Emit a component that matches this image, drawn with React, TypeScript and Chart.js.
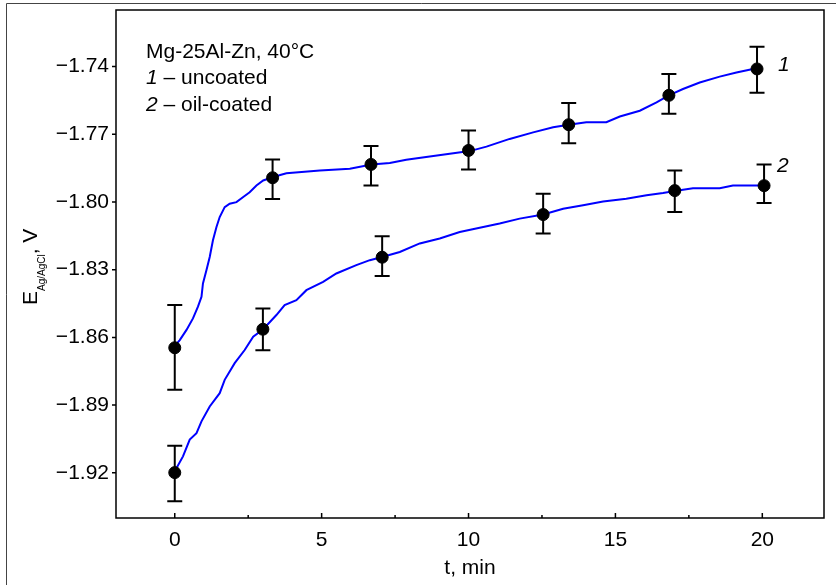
import React, { useEffect, useRef } from "react";
import { Chart, registerables } from "chart.js";

Chart.register(...registerables);

// Curve 1 (uncoated) — continuous record
const curve1T = [0, 0.17, 0.4, 0.62, 0.79, 0.91, 0.96, 1.08, 1.19, 1.3, 1.42, 1.53, 1.7, 1.87, 2.1, 2.32, 2.55, 2.78, 3.01, 3.35, 3.8, 4.94, 5.96, 6.7, 7.32, 7.88, 8.68, 9.36, 10.04, 10.61, 11.4, 12.2, 12.88, 13.41, 14.01, 14.69, 15.15, 15.83, 16.4, 16.82, 17.3, 17.87, 18.55, 19.12, 19.68];
const curve1E = [-1.8638, -1.8612, -1.8567, -1.8516, -1.8464, -1.842, -1.8361, -1.8302, -1.8244, -1.817, -1.8111, -1.8067, -1.8023, -1.8008, -1.8001, -1.7979, -1.7957, -1.7927, -1.7905, -1.789, -1.7873, -1.7861, -1.7853, -1.7834, -1.7828, -1.7813, -1.7799, -1.7787, -1.7775, -1.7755, -1.7721, -1.7692, -1.7669, -1.7658, -1.7647, -1.7647, -1.7622, -1.7596, -1.7559, -1.7528, -1.75, -1.7471, -1.7445, -1.7427, -1.7411];

// Curve 2 (oil-coated) — continuous record
const curve2T = [0, 0.28, 0.51, 0.74, 0.91, 1.19, 1.53, 1.7, 2.04, 2.38, 2.67, 3.01, 3.46, 3.74, 4.14, 4.48, 5.05, 5.5, 6.18, 6.64, 7.06, 7.66, 8.34, 9.02, 9.7, 10.38, 11.06, 11.74, 12.54, 13.22, 13.9, 14.58, 15.37, 16.06, 16.62, 17.02, 17.64, 18.55, 19.0, 20.02];
const curve2E = [-1.9193, -1.9127, -1.9053, -1.9024, -1.8972, -1.8906, -1.8847, -1.8788, -1.8714, -1.8656, -1.8597, -1.8564, -1.8501, -1.8457, -1.8435, -1.8391, -1.8354, -1.8317, -1.828, -1.8258, -1.8244, -1.8222, -1.8184, -1.8162, -1.8133, -1.8114, -1.8096, -1.8074, -1.8056, -1.803, -1.8015, -1.7998, -1.7986, -1.7971, -1.7961, -1.7952, -1.7939, -1.7939, -1.7927, -1.7927];

// Averaged points with error bars, series 1
const mark1T = [0, 3.33, 6.68, 10.0, 13.41, 16.82, 19.82];
const mark1E = [-1.8646, -1.7893, -1.7834, -1.7772, -1.7658, -1.7528, -1.7411];
const mark1Hi = [-1.8457, -1.7812, -1.7752, -1.7684, -1.7562, -1.7434, -1.7313];
const mark1Lo = [-1.8832, -1.7987, -1.7927, -1.7856, -1.774, -1.761, -1.7516];

// Averaged points with error bars, series 2
const mark2T = [0, 3.0, 7.06, 12.54, 17.02, 20.06];
const mark2E = [-1.9199, -1.8564, -1.8245, -1.8056, -1.795, -1.7928];
const mark2Hi = [-1.908, -1.8472, -1.8152, -1.7964, -1.7861, -1.7834];
const mark2Lo = [-1.9326, -1.8657, -1.8328, -1.814, -1.8045, -1.8005];

const xTicks = [0, 5, 10, 15, 20];
const xMinorTicks = [2.5, 7.5, 12.5, 17.5];
const yTicks = [-1.92, -1.89, -1.86, -1.83, -1.8, -1.77, -1.74];

const legendTitle = "Mg-25Al-Zn, 40°C";
const legendItems = [
  { num: "1", text: " – uncoated" },
  { num: "2", text: " – oil-coated" },
];

const FAMILY = '"Liberation Sans", Arial, Helvetica, sans-serif';
const FS = 21;

export default function App() {
  const ref = useRef<HTMLCanvasElement | null>(null);

  useEffect(() => {
    const canvas = ref.current;
    if (!canvas) return;
    const pts = (xs: number[], ys: number[]) => xs.map((x, i) => ({ x, y: ys[i] }));

    const decor = {
      id: "decor",
      beforeDraw(chart: any) {
        const ctx = chart.ctx;
        ctx.save();
        ctx.fillStyle = "#fff";
        ctx.fillRect(0, 0, chart.width, chart.height);
        ctx.strokeStyle = "#444";
        ctx.lineWidth = 1;
        ctx.beginPath();
        ctx.moveTo(6.5, chart.height);
        ctx.lineTo(6.5, 3.5);
        ctx.lineTo(chart.width, 3.5);
        ctx.stroke();
        ctx.restore();
      },
      afterDatasetsDraw(chart: any) {
        const ctx = chart.ctx;
        const xs = chart.scales.x;
        const ys = chart.scales.y;
        ctx.save();
        ctx.strokeStyle = "#000";
        ctx.lineWidth = 2;
        const cap = 7.5;
        const draw = (T: number[], Hi: number[], Lo: number[]) => {
          T.forEach((t, i) => {
            const px = xs.getPixelForValue(t);
            const pHi = ys.getPixelForValue(Hi[i]);
            const pLo = ys.getPixelForValue(Lo[i]);
            ctx.beginPath();
            ctx.moveTo(px, pHi);
            ctx.lineTo(px, pLo);
            ctx.moveTo(px - cap, pHi);
            ctx.lineTo(px + cap, pHi);
            ctx.moveTo(px - cap, pLo);
            ctx.lineTo(px + cap, pLo);
            ctx.stroke();
          });
        };
        draw(mark1T, mark1Hi, mark1Lo);
        draw(mark2T, mark2Hi, mark2Lo);
        ctx.restore();
      },
      afterDraw(chart: any) {
        const ctx = chart.ctx;
        const a = chart.chartArea;
        const xs = chart.scales.x;
        const ys = chart.scales.y;
        ctx.save();
        // frame
        ctx.strokeStyle = "#000";
        ctx.lineWidth = 1.5;
        ctx.strokeRect(a.left, a.top, a.right - a.left, a.bottom - a.top);
        // x ticks (inward)
        ctx.lineWidth = 1.5;
        ctx.beginPath();
        xTicks.forEach((v) => {
          const px = xs.getPixelForValue(v);
          ctx.moveTo(px, a.bottom);
          ctx.lineTo(px, a.bottom - 5);
        });
        xMinorTicks.forEach((v) => {
          const px = xs.getPixelForValue(v);
          ctx.moveTo(px, a.bottom);
          ctx.lineTo(px, a.bottom - 3);
        });
        // y ticks (outward)
        yTicks.forEach((v) => {
          const py = ys.getPixelForValue(v);
          ctx.moveTo(a.left, py);
          ctx.lineTo(a.left - 4, py);
        });
        ctx.stroke();

        // legend text
        ctx.fillStyle = "#000";
        ctx.textBaseline = "alphabetic";
        ctx.textAlign = "left";
        ctx.font = `${FS}px ${FAMILY}`;
        ctx.fillText(legendTitle, 146, 58);
        legendItems.forEach((it, i) => {
          const y = 84 + i * 26.5;
          ctx.font = `italic ${FS}px ${FAMILY}`;
          ctx.fillText(it.num, 146, y);
          const w = ctx.measureText(it.num).width;
          ctx.font = `${FS}px ${FAMILY}`;
          ctx.fillText(it.text, 146 + w, y);
        });

        // curve labels
        ctx.font = `italic ${FS}px ${FAMILY}`;
        ctx.fillText("1", 778, 71);
        ctx.fillText("2", 777, 172);

        // y axis title: E_Ag/AgCl, V
        ctx.translate(37, 305);
        ctx.rotate(-Math.PI / 2);
        ctx.font = `${FS}px ${FAMILY}`;
        let x = 0;
        ctx.fillText("E", x, 0);
        x += ctx.measureText("E").width;
        ctx.font = `10px ${FAMILY}`;
        ctx.fillText("Ag/AgCl", x, 8);
        x += ctx.measureText("Ag/AgCl").width;
        ctx.font = `${FS}px ${FAMILY}`;
        ctx.fillText(", V", x, 0);
        ctx.restore();
      },
    };

    const chart = new Chart(canvas, {
      type: "scatter",
      data: {
        datasets: [
          {
            data: pts(curve1T, curve1E),
            showLine: true,
            borderColor: "#0000ff",
            borderWidth: 2,
            pointRadius: 0,
            tension: 0,
            order: 3,
          },
          {
            data: pts(curve2T, curve2E),
            showLine: true,
            borderColor: "#0000ff",
            borderWidth: 2,
            pointRadius: 0,
            tension: 0,
            order: 3,
          },
          {
            data: pts(mark1T, mark1E),
            showLine: false,
            pointRadius: 6,
            pointBorderWidth: 1,
            backgroundColor: "#000",
            borderColor: "#000",
            order: 1,
          },
          {
            data: pts(mark2T, mark2E),
            showLine: false,
            pointRadius: 6,
            pointBorderWidth: 1,
            backgroundColor: "#000",
            borderColor: "#000",
            order: 1,
          },
        ],
      } as any,
      options: {
        animation: false,
        responsive: false,
        devicePixelRatio: 1,
        events: [],
        layout: { padding: { top: 10, right: 12, left: 0, bottom: 0 } },
        plugins: {
          legend: { display: false },
          tooltip: { enabled: false },
        },
        scales: {
          x: {
            type: "linear",
            min: -2,
            max: 22.1,
            afterBuildTicks: (s: any) => {
              s.ticks = xTicks.map((v) => ({ value: v }));
            },
            afterFit: (s: any) => {
              s.height = 67;
              s.paddingLeft = 0;
              s.paddingRight = 0;
            },
            grid: { display: false, drawTicks: false },
            border: { display: false },
            ticks: {
              color: "#000",
              font: { size: FS, family: FAMILY },
              padding: 10,
              maxRotation: 0,
              autoSkip: false,
              callback: (v: any) => String(v),
            },
            title: {
              display: true,
              text: "t, min",
              color: "#000",
              font: { size: FS, family: FAMILY },
              padding: { top: 0, bottom: 4 },
            },
          },
          y: {
            type: "linear",
            min: -1.94,
            max: -1.715,
            afterBuildTicks: (s: any) => {
              s.ticks = yTicks.map((v) => ({ value: v }));
            },
            afterFit: (s: any) => {
              s.width = 116;
              s.paddingTop = 0;
              s.paddingBottom = 0;
            },
            grid: { display: false, drawTicks: false },
            border: { display: false },
            ticks: {
              color: "#000",
              font: { size: FS, family: FAMILY },
              padding: 7,
              autoSkip: false,
              callback: (v: any) => "\u2212" + Math.abs(Number(v)).toFixed(2),
            },
          },
        },
      } as any,
      plugins: [decor],
    });

    return () => chart.destroy();
  }, []);

  return (
    <div style={{ position: "absolute", left: 0, top: 0, width: 836, height: 585, background: "#fff" }}>
      <canvas ref={ref} width={836} height={585} style={{ display: "block", width: 836, height: 585 }} />
    </div>
  );
}
